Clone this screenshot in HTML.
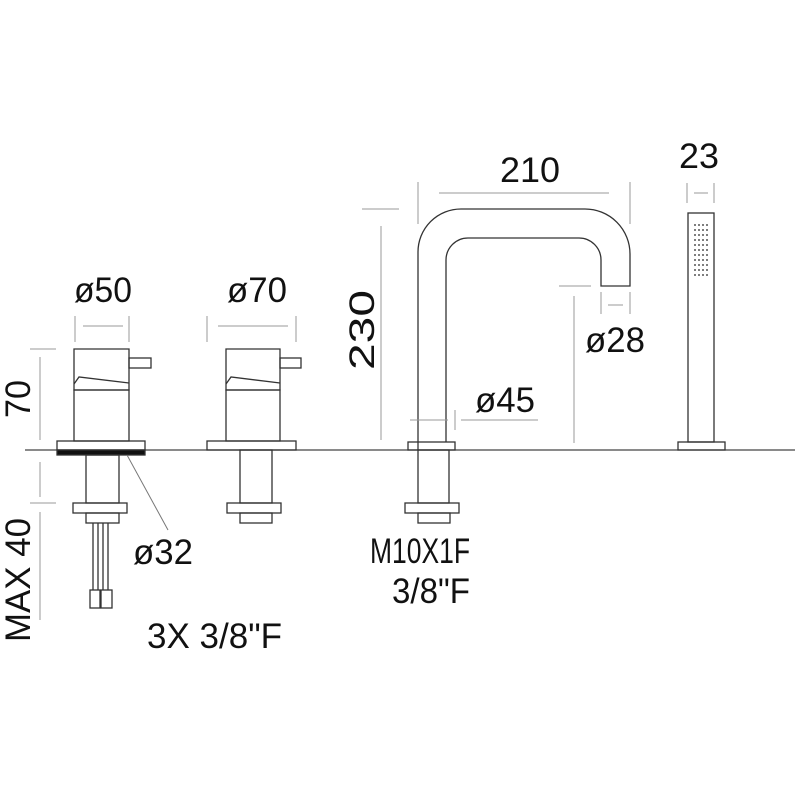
<!DOCTYPE html>
<html><head><meta charset="utf-8"><style>
html,body{margin:0;padding:0;background:#fff}
svg text{font-family:"Liberation Sans",sans-serif;font-size:35px;fill:#111}
</style></head><body>
<svg width="800" height="800" viewBox="0 0 800 800" xmlns="http://www.w3.org/2000/svg">
<g fill="none" stroke="#333" stroke-width="1.3">
<line x1="25" y1="450" x2="795" y2="450" stroke="#444"/>
<path d="M74 349 H129 V390 H74 Z"/>
<path d="M74 384 L79 377 L129 383"/>
<rect x="129" y="358" width="22" height="10"/>
<rect x="74" y="390" width="55" height="51"/>
<rect x="57" y="441" width="88" height="9"/>
<rect x="57" y="450" width="88" height="5" fill="#111"/>
<rect x="86" y="455" width="33" height="48"/>
<rect x="73" y="503" width="54" height="10"/>
<rect x="86" y="513" width="33" height="10"/>
<line x1="93" y1="523" x2="93" y2="590"/><line x1="98" y1="523" x2="98" y2="590"/>
<line x1="103" y1="523" x2="103" y2="590"/><line x1="108" y1="523" x2="108" y2="590"/>
<rect x="90" y="590" width="10" height="18"/><rect x="101" y="590" width="11" height="18"/>
<line x1="127" y1="455" x2="168" y2="530" stroke="#777" stroke-width="1"/>
<path d="M226 349 H280 V390 H226 Z"/>
<path d="M226 384 L231 377 L280 383"/>
<rect x="280" y="358" width="21" height="10"/>
<rect x="226" y="390" width="54" height="51"/>
<rect x="207" y="441" width="89" height="9"/>
<rect x="240" y="450" width="32" height="53"/>
<rect x="227" y="503" width="54" height="10"/>
<rect x="240" y="513" width="32" height="10"/>
<path d="M418 450 V252 A43 43 0 0 1 461 209 H585 A45 45 0 0 1 630 254 V286 H601 V260 A22 22 0 0 0 579 238 H468 A22 22 0 0 0 446 260 V442"/>
<rect x="408" y="442" width="47" height="8"/>
<rect x="418" y="450" width="31" height="53"/>
<rect x="405" y="503" width="54" height="10"/>
<rect x="418" y="513" width="32" height="10"/>
<rect x="688" y="213" width="26" height="229"/>
<rect x="678" y="442" width="47" height="8"/>
</g>
<g stroke="#999" stroke-width="1" fill="none">
<line x1="75" y1="316" x2="75" y2="342"/><line x1="129" y1="316" x2="129" y2="342"/><line x1="83" y1="326" x2="123" y2="326"/>
<line x1="207" y1="316" x2="207" y2="342"/><line x1="296" y1="316" x2="296" y2="342"/><line x1="218" y1="326" x2="288" y2="326"/>
<line x1="30" y1="349" x2="56" y2="349"/><line x1="40" y1="357" x2="40" y2="440"/>
<line x1="40" y1="462" x2="40" y2="497"/><line x1="30" y1="503" x2="56" y2="503"/>
<line x1="40" y1="512" x2="40" y2="620"/>
<line x1="418" y1="182" x2="418" y2="224"/><line x1="630" y1="182" x2="630" y2="224"/><line x1="439" y1="193" x2="609" y2="193"/>
<line x1="687" y1="183" x2="687" y2="203"/><line x1="714" y1="183" x2="714" y2="203"/><line x1="694" y1="193" x2="708" y2="193"/>
<line x1="362" y1="209" x2="399" y2="209"/><line x1="381" y1="226" x2="381" y2="440"/>
<line x1="559" y1="286" x2="591" y2="286"/><line x1="574" y1="296" x2="574" y2="443"/>
<line x1="601" y1="292" x2="601" y2="314"/><line x1="630" y1="292" x2="630" y2="314"/><line x1="608" y1="305" x2="623" y2="305"/>
<line x1="410" y1="420" x2="448" y2="420"/><line x1="455" y1="410" x2="455" y2="430"/><line x1="461" y1="420" x2="538" y2="420"/>
</g>
<g>
<text x="74" y="302" textLength="58" lengthAdjust="spacingAndGlyphs">ø50</text>
<text x="227" y="302" textLength="60" lengthAdjust="spacingAndGlyphs">ø70</text>
<text x="500" y="182" textLength="60" lengthAdjust="spacingAndGlyphs">210</text>
<text x="679" y="168" textLength="40" lengthAdjust="spacingAndGlyphs">23</text>
<text x="585" y="352" textLength="60" lengthAdjust="spacingAndGlyphs">ø28</text>
<text x="475" y="412" textLength="60" lengthAdjust="spacingAndGlyphs">ø45</text>
<text x="133" y="564" textLength="60" lengthAdjust="spacingAndGlyphs">ø32</text>
<text x="370" y="563" textLength="100" lengthAdjust="spacingAndGlyphs">M10X1F</text>
<text x="392" y="603" textLength="78" lengthAdjust="spacingAndGlyphs">3/8"F</text>
<text x="147" y="648" textLength="135" lengthAdjust="spacingAndGlyphs">3X 3/8"F</text>
<text transform="translate(374,370) rotate(-90)" textLength="80" lengthAdjust="spacingAndGlyphs">230</text>
<text transform="translate(30,418) rotate(-90)" textLength="38" lengthAdjust="spacingAndGlyphs">70</text>
<text transform="translate(30,642) rotate(-90)" textLength="124" lengthAdjust="spacingAndGlyphs">MAX 40</text>
</g>
<g fill="#555">
<circle cx="695" cy="225" r="1"/><circle cx="699" cy="225" r="1"/><circle cx="703" cy="225" r="1"/><circle cx="707" cy="225" r="1"/>
<circle cx="695" cy="230" r="1"/><circle cx="699" cy="230" r="1"/><circle cx="703" cy="230" r="1"/><circle cx="707" cy="230" r="1"/>
<circle cx="695" cy="235" r="1"/><circle cx="699" cy="235" r="1"/><circle cx="703" cy="235" r="1"/><circle cx="707" cy="235" r="1"/>
<circle cx="695" cy="240" r="1"/><circle cx="699" cy="240" r="1"/><circle cx="703" cy="240" r="1"/><circle cx="707" cy="240" r="1"/>
<circle cx="695" cy="245" r="1"/><circle cx="699" cy="245" r="1"/><circle cx="703" cy="245" r="1"/><circle cx="707" cy="245" r="1"/>
<circle cx="695" cy="250" r="1"/><circle cx="699" cy="250" r="1"/><circle cx="703" cy="250" r="1"/><circle cx="707" cy="250" r="1"/>
<circle cx="695" cy="255" r="1"/><circle cx="699" cy="255" r="1"/><circle cx="703" cy="255" r="1"/><circle cx="707" cy="255" r="1"/>
<circle cx="695" cy="260" r="1"/><circle cx="699" cy="260" r="1"/><circle cx="703" cy="260" r="1"/><circle cx="707" cy="260" r="1"/>
<circle cx="695" cy="265" r="1"/><circle cx="699" cy="265" r="1"/><circle cx="703" cy="265" r="1"/><circle cx="707" cy="265" r="1"/>
<circle cx="695" cy="270" r="1"/><circle cx="699" cy="270" r="1"/><circle cx="703" cy="270" r="1"/><circle cx="707" cy="270" r="1"/>
<circle cx="695" cy="275" r="1"/><circle cx="699" cy="275" r="1"/><circle cx="703" cy="275" r="1"/><circle cx="707" cy="275" r="1"/>
</g>
</svg>
</body></html>
